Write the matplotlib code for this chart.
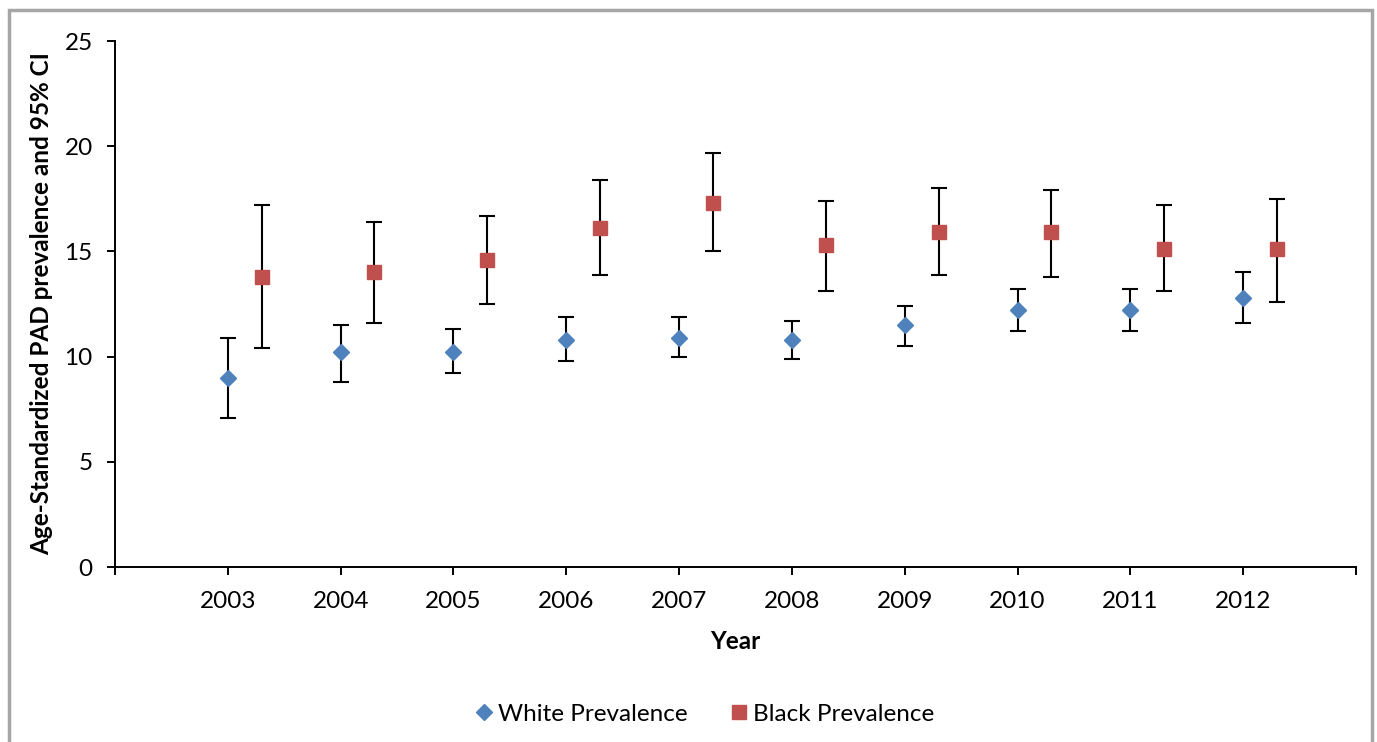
import numpy as np
import matplotlib.pyplot as plt
from matplotlib.patches import Rectangle
from matplotlib.lines import Line2D

############## Data #########################################
years = ['2003', '2004', '2005', '2006', '2007', '2008', '2009', '2010', '2011', '2012']

white = [9.0, 10.2, 10.2, 10.8, 10.9, 10.8, 11.5, 12.2, 12.2, 12.8]
white_lo = [7.1, 8.8, 9.2, 9.8, 10.0, 9.9, 10.5, 11.2, 11.2, 11.6]
white_hi = [10.9, 11.5, 11.3, 11.9, 11.9, 11.7, 12.4, 13.2, 13.2, 14.0]

black = [13.8, 14.0, 14.6, 16.1, 17.3, 15.3, 15.9, 15.9, 15.1, 15.1]
black_lo = [10.4, 11.6, 12.5, 13.9, 15.0, 13.1, 13.9, 13.8, 13.1, 12.6]
black_hi = [17.2, 16.4, 16.7, 18.4, 19.7, 17.4, 18.0, 17.9, 17.2, 17.5]

plt.rcParams['font.family'] = ['Lato', 'DejaVu Sans']
fs = 17.5

fig = plt.figure(figsize=(13.77, 7.42), dpi=100)
ax = fig.add_axes([115 / 1377, 1 - 567 / 742, (1356 - 115) / 1377, (567 - 41) / 742])

x = np.arange(1, len(years) + 1)
w = np.array(white)
b = np.array(black)
w_err = [w - np.array(white_lo), np.array(white_hi) - w]
b_err = [b - np.array(black_lo), np.array(black_hi) - b]

ax.errorbar(x, w, yerr=w_err, fmt='D', color='#4F81BD', ms=7.8, mec='#4F81BD',
            ecolor='black', elinewidth=1.5, capsize=5.5, capthick=1.5, zorder=3)
ax.errorbar(x + 0.3, b, yerr=b_err, fmt='s', color='#C0504D', ms=10.5, mec='#C0504D',
            ecolor='black', elinewidth=1.5, capsize=5.5, capthick=1.5, zorder=3)

ax.set_xlim(0, len(years) + 1)
ax.set_ylim(0, 25)
ax.set_yticks([0, 5, 10, 15, 20, 25])
ax.set_xticks(np.arange(0, len(years) + 2))
ax.set_xticklabels([''] + years + [''])

for s in ['top', 'right']:
    ax.spines[s].set_visible(False)
for s in ['left', 'bottom']:
    ax.spines[s].set_linewidth(1.4)
ax.tick_params(axis='both', direction='out', length=6, width=1.4, labelsize=fs)
ax.tick_params(axis='y', pad=10)
ax.tick_params(axis='x', pad=11)

ax.set_ylabel('Age-Standardized PAD prevalence and 95% CI', fontsize=fs, fontweight='bold', labelpad=8)
ax.set_xlabel('Year', fontsize=fs, fontweight='bold', labelpad=13)

handles = [Line2D([], [], ls='none', marker='D', ms=7.8, color='#4F81BD'),
           Line2D([], [], ls='none', marker='s', ms=10.5, color='#C0504D')]
fig.legend(handles, ['White Prevalence', 'Black Prevalence'], loc='center',
           bbox_to_anchor=(703 / 1377, 1 - 714 / 742), ncol=2, frameon=False,
           fontsize=fs, handletextpad=0.1, columnspacing=1.6, handlelength=1.0)

# grey outer frame
fig.patches.append(Rectangle((9 / 1377, -0.05), (1372 - 9) / 1377, 1.05 - 10 / 742,
                             transform=fig.transFigure, fill=False, edgecolor='#A6A6A6',
                             linewidth=2.5, clip_on=False))

fig.savefig('out.png', dpi=100)
